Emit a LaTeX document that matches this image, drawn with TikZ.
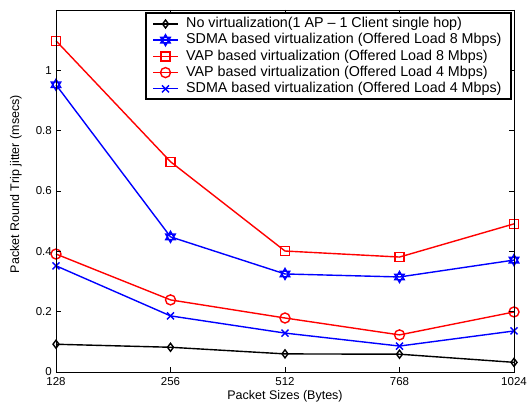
\documentclass[tikz,border=0pt]{standalone}
\usepackage{fontspec}
\setmainfont{Liberation Sans}
\usetikzlibrary{plotmarks}
\definecolor{mblue}{RGB}{0,0,255}
\definecolor{mred}{RGB}{255,0,0}
\pgfdeclareplotmark{mdia}{%
  \pgfpathmoveto{\pgfqpoint{0pt}{4pt}}\pgfpathlineto{\pgfqpoint{3pt}{0pt}}%
  \pgfpathlineto{\pgfqpoint{0pt}{-4pt}}\pgfpathlineto{\pgfqpoint{-3pt}{0pt}}%
  \pgfpathclose\pgfusepathqstroke}
\pgfdeclareplotmark{hexa}{%
  \pgfpathmoveto{\pgfpointpolar{90}{5.5pt}}\pgfpathlineto{\pgfpointpolar{210}{5.5pt}}%
  \pgfpathlineto{\pgfpointpolar{330}{5.5pt}}\pgfpathclose
  \pgfpathmoveto{\pgfpointpolar{270}{5.5pt}}\pgfpathlineto{\pgfpointpolar{30}{5.5pt}}%
  \pgfpathlineto{\pgfpointpolar{150}{5.5pt}}\pgfpathclose\pgfusepathqstroke}
\pgfdeclareplotmark{msq}{%
  \pgfpathrectangle{\pgfqpoint{-4.5pt}{-4.5pt}}{\pgfqpoint{9pt}{9pt}}\pgfusepathqstroke}
\pgfdeclareplotmark{mcirc}{%
  \pgfpathcircle{\pgfpointorigin}{5pt}\pgfusepathqstroke}
\pgfdeclareplotmark{mx}{%
  \pgfpathmoveto{\pgfqpoint{-3.5pt}{-3.5pt}}\pgfpathlineto{\pgfqpoint{3.5pt}{3.5pt}}%
  \pgfpathmoveto{\pgfqpoint{-3.5pt}{3.5pt}}\pgfpathlineto{\pgfqpoint{3.5pt}{-3.5pt}}%
  \pgfusepathqstroke}
\tikzset{
  axisline/.style={line width=0.9pt, black},
  ticklab/.style={font=\fontsize{11.5}{13}\selectfont, inner sep=0pt},
  axlab/.style={font=\fontsize{12.5}{14}\selectfont, inner sep=0pt},
  legtext/.style={font=\fontsize{14.3}{16}\selectfont, inner sep=0pt, anchor=west},
  series/.style={line width=1.4pt, line join=miter},
  sblack/.style={series, black, mark=mdia},
  sstar/.style={series, mblue, mark=hexa},
  ssq/.style={series, mred, mark=msq},
  scirc/.style={series, mred, mark=mcirc},
  sx/.style={series, mblue, mark=mx},
}
\begin{document}
\begin{tikzpicture}[x=1pt,y=1pt]
\useasboundingbox (0,0) rectangle (527,405);
\fill[white] (0,0) rectangle (527,405);
\coordinate (ll) at (56,33);
\coordinate (ur) at (514,395);
% data
\begin{scope}[shift={(56,33)}, x=114.5pt, y=301.7pt]
\draw[sblack] plot coordinates {(0,0.092) (1,0.082) (2,0.060) (3,0.059) (4,0.032)};
\draw[sstar] plot coordinates {(0,0.952) (1,0.448) (2,0.325) (3,0.315) (4,0.371)};
\draw[ssq] plot coordinates {(0,1.098) (1,0.697) (2,0.401) (3,0.381) (4,0.491)};
\draw[scirc] plot coordinates {(0,0.391) (1,0.239) (2,0.179) (3,0.123) (4,0.199)};
\draw[sx] plot coordinates {(0,0.352) (1,0.186) (2,0.129) (3,0.086) (4,0.136)};
\end{scope}
% axes box
\draw[axisline] (ll) rectangle (ur);
\foreach \i/\t in {0/128,1/256,2/512,3/768,4/1024}{
  \draw[axisline] (56+114.5*\i,33) -- ++(0,5);
  \draw[axisline] (56+114.5*\i,395) -- ++(0,-5);
  \node[ticklab] (xt\i) at (56+114.5*\i,23) {\t};
}
\foreach \v/\t [count=\k] in {0/0,0.2/0.2,0.4/0.4,0.6/0.6,0.8/0.8,1/1}{
  \draw[axisline] (56,33+301.7*\v) -- ++(5,0);
  \draw[axisline] (514,33+301.7*\v) -- ++(-5,0);
  \node[ticklab, anchor=east] (yt\k) at (52,33+301.7*\v) {\t};
}
\node[axlab] (xlabel) at (285,9) {Packet Sizes (Bytes)};
\node[axlab, rotate=90] (ylabel) at (16,221) {Packet Round Trip jitter (msecs)};
% legend
\draw[line width=1.2pt, fill=white] (146,306) rectangle (511,392);
\draw[sblack, mark indices={2}] plot coordinates {(153,381) (165.5,381) (178,381)};
\draw[sstar, mark indices={2}] plot coordinates {(153,364.8) (165.5,364.8) (178,364.8)};
\draw[ssq, mark indices={2}] plot coordinates {(153,348.6) (165.5,348.6) (178,348.6)};
\draw[scirc, mark indices={2}] plot coordinates {(153,332.4) (165.5,332.4) (178,332.4)};
\draw[sx, mark indices={2}] plot coordinates {(153,316.2) (165.5,316.2) (178,316.2)};
\node[legtext] (l1) at (186,381) {No virtualization(1 AP -- 1 Client single hop)};
\node[legtext] (l2) at (186,364.8) {SDMA based virtualization (Offered Load 8 Mbps)};
\node[legtext] (l3) at (186,348.6) {VAP based virtualization (Offered Load 8 Mbps)};
\node[legtext] (l4) at (186,332.4) {VAP based virtualization (Offered Load 4 Mbps)};
\node[legtext] (l5) at (186,316.2) {SDMA based virtualization (Offered Load 4 Mbps)};
\end{tikzpicture}
\end{document}
